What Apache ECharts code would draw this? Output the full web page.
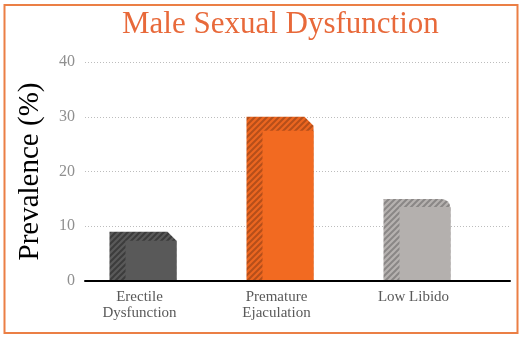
<!DOCTYPE html>
<html>
<head>
<meta charset="utf-8">
<script src="https://cdn.jsdelivr.net/npm/echarts@6/dist/echarts.min.js"></script>
<style>
  html, body { margin: 0; padding: 0; background: #fff; }
  #chart { width: 523px; height: 339px; }
</style>
</head>
<body>
<div id="chart"></div>
<script>
// Prevalence of male sexual dysfunction by type (%)
const categories = ['Erectile\nDysfunction', 'Premature\nEjaculation', 'Low Libido'];
const prevalence = [9, 30, 15];
const yTicks = [0, 10, 20, 30, 40];

// Look of each column: front face colour, hatched side/top colours, top band depth, top-right corner
const barLooks = [
  { face: '#595959', base: '#5a5a5a', stripe: '#3c3c3c', depth: 9, corner: 'bevel' },
  { face: '#f26a21', base: '#ec6620', stripe: '#b54f1a', depth: 14, corner: 'bevel' },
  { face: '#b4b0ae', base: '#b6b2b0', stripe: '#8a8786', depth: 8, corner: 'round' }
];

// Small tile with "/" stripes, repeated as a fill pattern
function hatchTile(base, stripe) {
  const c = document.createElement('canvas');
  c.width = 6; c.height = 6;
  const g = c.getContext('2d');
  g.fillStyle = base;
  g.fillRect(0, 0, 6, 6);
  g.strokeStyle = stripe;
  g.lineWidth = 2;
  g.beginPath();
  g.moveTo(-1, 7); g.lineTo(7, -1);
  g.moveTo(-4, 4); g.lineTo(4, -4);
  g.moveTo(2, 10); g.lineTo(10, 2);
  g.stroke();
  return c;
}
const hatches = barLooks.map(b => hatchTile(b.base, b.stripe));

const serif = '"Liberation Serif", "Times New Roman", serif';

const chart = echarts.init(document.getElementById('chart'), null, { renderer: 'canvas' });

chart.setOption({
  animation: false,
  backgroundColor: '#ffffff',
  title: {
    text: 'Male Sexual Dysfunction',
    left: 122,
    top: 9,
    padding: 0,
    textStyle: { fontFamily: serif, fontSize: 31, fontWeight: 'normal', color: '#e8693a' }
  },
  graphic: [{
    type: 'rect',
    shape: { x: 4.5, y: 5, width: 513, height: 328 },
    style: { fill: 'none', stroke: '#eb7f45', lineWidth: 2 },
    z: 10
  }],
  grid: [
    { left: 85, right: 13, top: 62, bottom: 58 },
    { left: 71, right: 41, top: 62, bottom: 58 }
  ],
  xAxis: [
    {
      type: 'category', gridIndex: 0, data: categories,
      axisLine: { show: true, lineStyle: { color: '#000', width: 2 } },
      axisTick: { show: false }, axisLabel: { show: false }, splitLine: { show: false },
      z: 5
    },
    {
      type: 'category', gridIndex: 1, data: categories,
      axisLine: { show: false }, axisTick: { show: false },
      axisLabel: {
        show: true, margin: 8, fontFamily: serif, fontSize: 15, lineHeight: 16,
        color: '#595959', interval: 0
      }
    }
  ],
  yAxis: [
    {
      type: 'value', gridIndex: 0, min: yTicks[0], max: yTicks[yTicks.length - 1], interval: 10,
      name: 'Prevalence (%)', nameLocation: 'middle', nameRotate: 90, nameGap: 40,
      nameTextStyle: { fontFamily: serif, fontSize: 29, color: '#000' },
      axisLine: { show: false }, axisTick: { show: false },
      axisLabel: { margin: 10, fontFamily: serif, fontSize: 16, color: '#8f8f8f' },
      splitLine: { show: true, lineStyle: { color: '#bdbdbd', width: 1, type: [1, 2] } }
    },
    {
      type: 'value', gridIndex: 1, min: yTicks[0], max: yTicks[yTicks.length - 1], interval: 10,
      show: false, splitLine: { show: false }
    }
  ],
  series: [{
    type: 'custom',
    xAxisIndex: 1,
    yAxisIndex: 1,
    data: prevalence.map((v, i) => [i, v]),
    z: 3,
    renderItem(params, api) {
      const i = api.value(0);
      const v = api.value(1);
      const base = api.coord([i, 0]);
      const top = api.coord([i, v])[1];
      const bottom = base[1];
      const L = base[0] - 30;
      const R = base[0] + 37;
      const look = barLooks[i];
      const c = 9;
      const side = 16;
      const hatchFill = { image: hatches[i], repeat: 'repeat' };
      const silhouette = look.corner === 'round'
        ? { type: 'rect', shape: { x: L, y: top, width: R - L, height: bottom - top, r: [0, c, 0, 0] },
            style: { fill: hatchFill } }
        : { type: 'polygon',
            shape: { points: [[L, bottom], [L, top], [R - c, top], [R, top + c], [R, bottom]] },
            style: { fill: hatchFill } };
      const front = {
        type: 'rect',
        shape: { x: L + side, y: top + look.depth, width: R - L - side, height: bottom - top - look.depth },
        style: { fill: look.face }
      };
      return { type: 'group', children: [silhouette, front] };
    }
  }]
});
</script>
</body>
</html>
